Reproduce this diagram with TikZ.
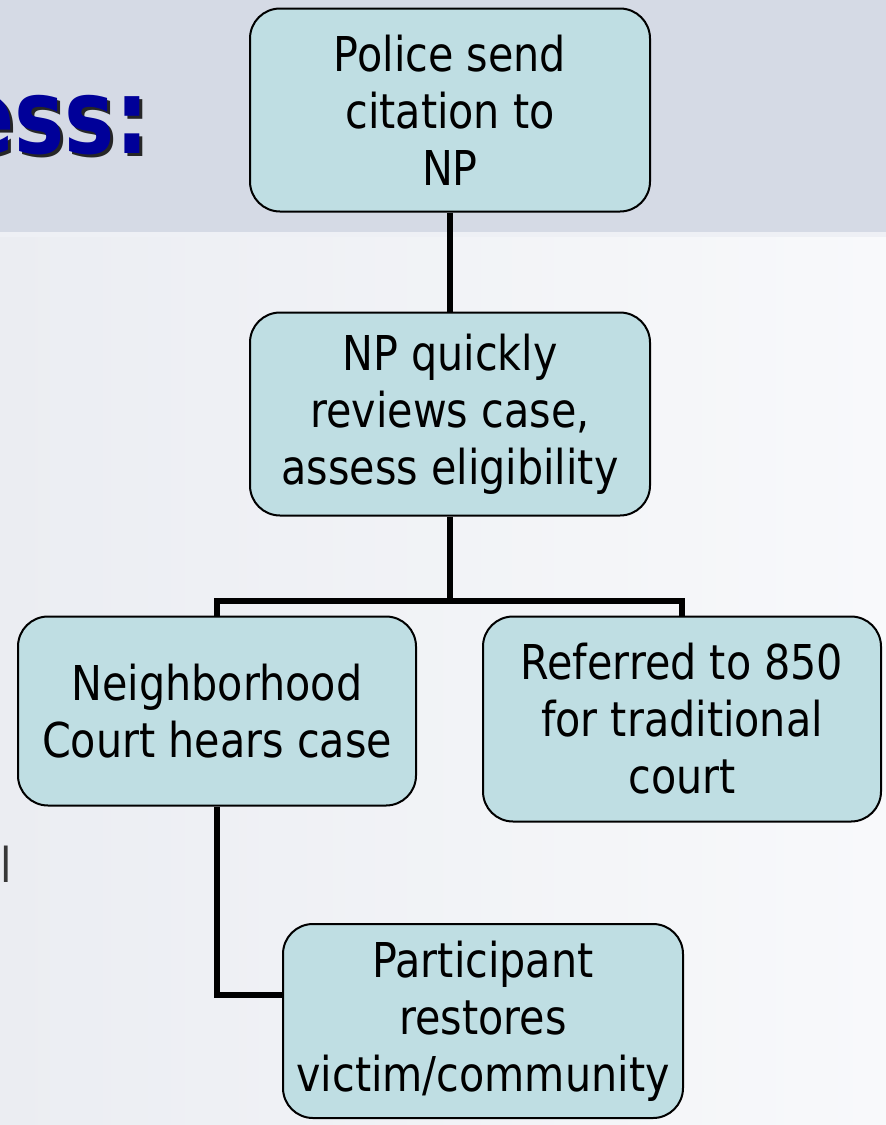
\documentclass[tikz,border=0pt]{standalone}
\usepackage{fontspec}
\setmainfont{DejaVu Sans}
\newfontfamily\boxfont[FakeStretch=0.86]{DejaVu Sans}
\usetikzlibrary{backgrounds}
\definecolor{hdr}{RGB}{213,218,229}
\definecolor{hdrline}{RGB}{238,240,245}
\definecolor{bgl}{RGB}{235,237,242}
\definecolor{bgr}{RGB}{248,249,251}
\definecolor{boxfill}{RGB}{191,222,227}
\definecolor{titleblue}{RGB}{0,0,153}
\definecolor{grayt}{RGB}{55,55,55}
\tikzset{
  stepbox/.style={draw=black, line width=2pt, fill=boxfill, rounded corners=30pt,
    align=center, inner sep=0pt, font=\boxfont\fontsize{48}{57}\selectfont},
  link/.style={draw=black, line width=5.5pt},
  titletext/.style={anchor=base east, inner sep=0pt, font=\fontsize{104}{110}\selectfont\bfseries}
}
\begin{document}
\begin{tikzpicture}[x=1pt,y=1pt]
\useasboundingbox (0,0) rectangle (886,-1125);
\begin{pgfonlayer}{background}
  \shade[left color=bgl, right color=bgr] (0,-234) rectangle (886,-1125);
  \fill[hdr] (0,0) rectangle (886,-232);
  \fill[hdrline] (0,-232) rectangle (886,-237);
\end{pgfonlayer}
\clip (0,0) rectangle (886,-1125);
% title fragment with its shadow
\node[titletext, text=black!85] (tsh) at (152,-156) {\scalebox{0.81}[1]{ess:}};
\node[titletext, text=titleblue] (title) at (149,-153) {\scalebox{0.81}[1]{ess:}};
% partial body text
\node[anchor=base west, inner sep=0pt, text=grayt, font=\boxfont\fontsize{48}{50}\selectfont] (frag) at (0,-882) {l};
% boxes
\node[stepbox, minimum width=400pt, minimum height=203pt] (b1) at (450,-110) {Police send\\citation to\\NP};
\node[stepbox, minimum width=400pt, minimum height=203pt] (b2) at (450,-414) {NP quickly\\reviews case,\\assess eligibility};
\node[stepbox, minimum width=398pt, minimum height=189pt] (b3) at (217,-711) {Neighborhood\\Court hears case};
\node[stepbox, minimum width=398pt, minimum height=205pt] (b4) at (682,-719) {Referred to 850\\for traditional\\court};
\node[stepbox, minimum width=400pt, minimum height=194pt] (b5) at (483,-1021) {Participant\\restores\\victim/community};
\coordinate (j) at (450,-601);
\coordinate (e) at ([yshift=26pt]b5.west);
\begin{pgfonlayer}{background}
  \draw[link] (b1.south) -- (b2.north);
  \draw[link] (b2.south) -- (j);
  \draw[link] (b3.north) |- (j) -| (b4.north);
  \draw[link] (b3.south) |- (e);
\end{pgfonlayer}
\end{tikzpicture}
\end{document}
